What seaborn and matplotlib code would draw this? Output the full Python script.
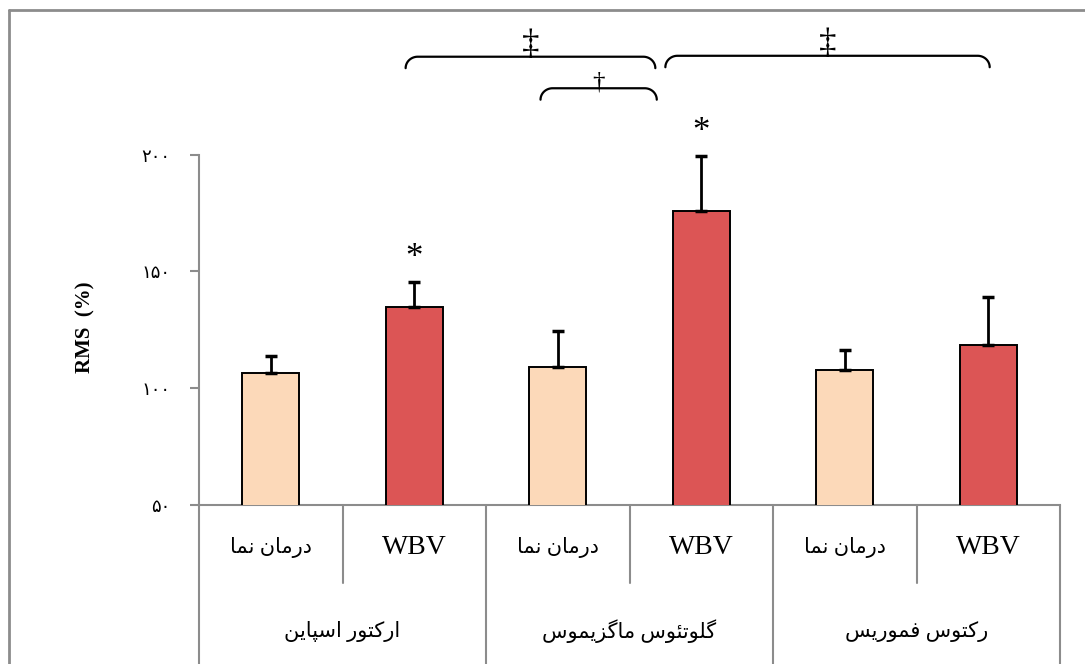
import numpy as np
import pandas as pd
import matplotlib
matplotlib.use("Agg")
import matplotlib.pyplot as plt
import matplotlib.transforms as mtransforms
import seaborn as sns

# --- data ---
muscles = ["ارکتور اسپاین", "گلوتئوس ماگزیموس", "رکتوس فموریس"]
conditions = ["درمان نما", "WBV"]
means = [106.3, 134.7, 109.0, 175.9, 107.6, 118.3]
errors = [7.3, 10.7, 15.3, 23.5, 8.7, 20.8]
significant = [False, True, False, True, False, False]
yticks = [50, 100, 150, 200]
ytick_labels = ["۵۰", "۱۰۰", "۱۵۰", "۲۰۰"]
# brackets above bars: start slot, end slot, height, mark
brackets = [(0.94, 2.68, 241.9, "‡"), (1.88, 2.69, 228.4, "†"), (2.75, 5.01, 242.3, "‡")]

colors = {"درمان نما": "#FCD9B9", "WBV": "#DC5555"}
gray = "#8C8C8C"

# matplotlib has no arabic shaping, so pick presentation forms by hand
# (isolated, final, initial, medial)
DUAL = {
    "ت": "\ufe95\ufe96\ufe97\ufe98",
    "س": "\ufeb1\ufeb2\ufeb3\ufeb4",
    "ف": "\ufed1\ufed2\ufed3\ufed4",
    "ل": "\ufedd\ufede\ufedf\ufee0",
    "م": "\ufee1\ufee2\ufee3\ufee4",
    "ن": "\ufee5\ufee6\ufee7\ufee8",
    "ئ": "\ufe89\ufe8a\ufe8b\ufe8c",
    "پ": "\ufb56\ufb57\ufb58\ufb59",
    "ک": "\ufb8e\ufb8f\ufb90\ufb91",
    "گ": "\ufb92\ufb93\ufb94\ufb95",
    "ی": "\ufbfc\ufbfd\ufbfe\ufbff",
}
RIGHT = {
    "ا": "\ufe8d\ufe8e",
    "د": "\ufea9\ufeaa",
    "ر": "\ufead\ufeae",
    "ز": "\ufeaf\ufeb0",
    "و": "\ufeed\ufeee",
}


def shape(text):
    if not any(ch in DUAL or ch in RIGHT for ch in text):
        return text
    out = []
    for i, ch in enumerate(text):
        prev = text[i - 1] if i > 0 else ""
        nxt = text[i + 1] if i < len(text) - 1 else ""
        if ch in DUAL:
            forms = DUAL[ch]
        elif ch in RIGHT:
            forms = RIGHT[ch]
        else:
            out.append(ch)
            continue
        a = prev in DUAL
        b = ch in DUAL and (nxt in DUAL or nxt in RIGHT)
        if a and b:
            out.append(forms[3])
        elif a:
            out.append(forms[1])
        elif b:
            out.append(forms[2])
        else:
            out.append(forms[0])
    return "".join(out[::-1])


sns.set_style("white")
plt.rcParams["font.family"] = ["Liberation Serif", "DejaVu Sans"]
plt.rcParams["text.color"] = "black"
plt.rcParams["axes.labelcolor"] = "black"
plt.rcParams["ytick.labelcolor"] = "black"

fig = plt.figure(figsize=(10.85, 6.64), dpi=100)
ax = fig.add_axes([199 / 1085, 159 / 664, 861 / 1085, 495 / 664])

df = pd.DataFrame({
    "slot": range(6),
    "condition": conditions * 3,
    "rms": means,
})
sns.barplot(data=df, x="slot", y="rms", hue="condition", palette=colors, saturation=1,
            dodge=False, width=0.4, edgecolor="black", linewidth=1.4,
            legend=False, ax=ax, zorder=3)
ax.errorbar(range(6), means, yerr=[np.zeros(6), errors], fmt="none",
            ecolor="black", elinewidth=2, capsize=4, capthick=2.5, zorder=4)

ax.set_xlim(-0.5, 5.5)
ax.set_ylim(50, 50 + 495 / 2.336)

# axes styling
for side in ["top", "right"]:
    ax.spines[side].set_visible(False)
for side in ["left", "bottom"]:
    ax.spines[side].set_color(gray)
    ax.spines[side].set_linewidth(1.5)
ax.spines["left"].set_bounds(50, 200)
ax.set_yticks(yticks)
ax.set_yticklabels(ytick_labels, fontsize=13, family="DejaVu Sans")
ax.tick_params(axis="y", direction="out", length=6.5, width=1.5, color=gray, pad=14, left=True)
ax.set_xticks([])
ax.set_xlabel("")
ax.set_ylabel("RMS  (%)", fontsize=15, fontweight="bold")
ax.yaxis.set_label_coords(-104 / 861, 0.36)

# category table under the axis
trans = mtransforms.blended_transform_factory(ax.transData, ax.transAxes)
for k, b in enumerate(np.arange(-0.5, 6, 1)):
    y_end = -0.33 if k % 2 == 0 else -0.158
    ax.plot([b, b], [0, y_end], transform=trans, clip_on=False, color=gray, lw=1.5)
for i in range(6):
    label = conditions[i % 2]
    size = 20 if label == "WBV" else 15
    ax.text(i, -0.085, shape(label), transform=trans, ha="center", va="center",
            fontsize=size)
for g, name in enumerate(muscles):
    ax.text(2 * g + 0.5, -0.255, shape(name), transform=trans, ha="center", va="center",
            fontsize=15)

# significance stars
for i in range(6):
    if significant[i]:
        ax.annotate("*", (i, means[i] + errors[i]), xytext=(0, 17), textcoords="offset points",
                    ha="center", va="center", fontsize=25)

# brackets
rx, ry = 0.084, 4.9
t = np.linspace(0, np.pi / 2, 25)
for x0, x1, y, mark in brackets:
    lx = x0 + rx * (1 - np.cos(t))
    rxs = x1 - rx * (1 - np.cos(t[::-1]))
    ys = y - ry + ry * np.sin(t)
    ax.plot(np.concatenate([lx, rxs]), np.concatenate([ys, ys[::-1]]),
            color="black", lw=1.6, clip_on=False)
    size = 25 if mark == "‡" else 18
    ax.annotate(mark, ((x0 + x1) / 2, y), xytext=(0, -4), textcoords="offset points",
                ha="center", va="bottom", fontsize=size)

# outer frame
fig.add_artist(plt.Line2D([9 / 1085, 1], [1 - 10 / 664, 1 - 10 / 664], transform=fig.transFigure,
                          color=gray, lw=2))
fig.add_artist(plt.Line2D([9 / 1085, 9 / 1085], [0, 1 - 10 / 664], transform=fig.transFigure,
                          color=gray, lw=2))

fig.savefig("out.png", dpi=100)
